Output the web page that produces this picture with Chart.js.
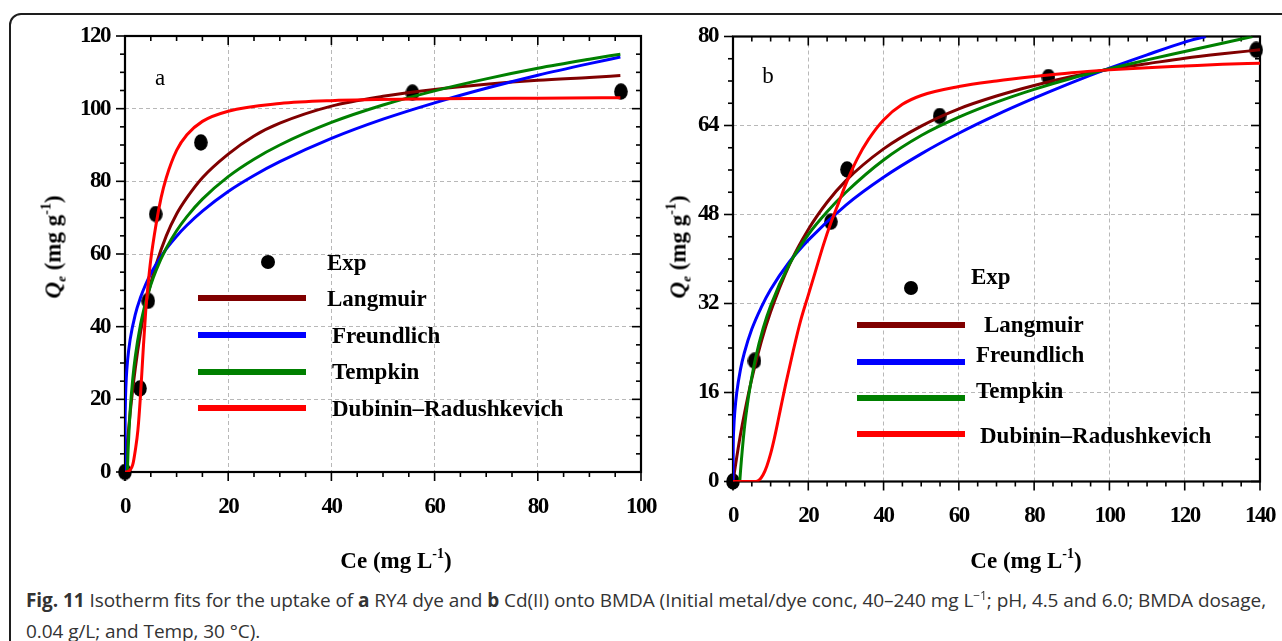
<!DOCTYPE html>
<html>
<head>
<meta charset="utf-8">
<script src="https://cdn.jsdelivr.net/npm/chart.js@4.4.1/dist/chart.umd.min.js"></script>
<style>
  body { margin: 0; background: #fff; width: 1282px; height: 641px; overflow: hidden; position: relative; }
  .frame { position: absolute; left: 9px; top: 13px; width: 1320px; height: 700px; border: 2px solid #1e1e1e; border-radius: 12px; box-sizing: border-box; }
  canvas { position: absolute; top: 0; }
  #chartA { left: 0; }
  #chartB { left: 660px; }
  .t { position: absolute; font-family: "Liberation Serif", serif; font-weight: bold; font-size: 23px; line-height: 1; white-space: nowrap; color: #000; transform: translateY(-50%); }
  .sup { font-size: 14px; position: relative; top: -0.75em; }
  .sub { font-size: 13px; font-style: italic; position: relative; top: 0.35em; }
  .panel { position: absolute; font-family: "Liberation Serif", serif; font-size: 23px; line-height: 1; transform: translate(-50%, -50%); }
  .swatch { position: absolute; height: 6px; transform: translateY(-50%); }
  .dot { position: absolute; width: 14px; height: 14px; border-radius: 50%; background: #000; transform: translate(-50%, -50%); }
  .xt { position: absolute; font-family: "Liberation Serif", serif; font-weight: bold; font-size: 23px; line-height: 1; white-space: nowrap; transform: translate(-50%, -50%); }
  .yt { position: absolute; font-family: "Liberation Serif", serif; font-weight: bold; font-size: 23px; line-height: 1; white-space: nowrap; transform: translate(-50%, -50%) rotate(-90deg); }
  .cap { position: absolute; left: 26px; top: 586px; font-family: "Open Sans", sans-serif; font-size: 19px; line-height: 28px; color: #333; white-space: nowrap; }
  .cap sup { font-size: 12px; vertical-align: 0; position: relative; top: -0.6em; }
</style>
</head>
<body>
<div class="frame"></div>
<canvas id="chartA" width="660" height="580"></canvas>
<canvas id="chartB" width="622" height="580"></canvas>
<div id="overlay"></div>
<div class="cap" id="cap"><span id="capLine1"><b>Fig. 11</b> Isotherm fits for the uptake of <b>a</b> RY4 dye and <b>b</b> Cd(II) onto BMDA (Initial metal/dye conc, 40–240 mg L<sup>−1</sup>; pH, 4.5 and 6.0; BMDA dosage,</span><br>0.04 g/L; and Temp, 30 °C).</div>
<script>
// ---- axis ticks ----
const xTicksA = [0, 20, 40, 60, 80, 100];
const yTicksA = [0, 20, 40, 60, 80, 100, 120];
const xTicksB = [0, 20, 40, 60, 80, 100, 120, 140];
const yTicksB = [0, 16, 32, 48, 64, 80];

const seriesNames = ['Langmuir', 'Freundlich', 'Tempkin', 'Dubinin–Radushkevich'];
const seriesColors = ['#800000', '#0000ff', '#008000', '#ff0000'];

// ---- panel a : RY4 dye ----
const expA_x = [0, 2.9, 4.5, 5.95, 14.7, 55.7, 96.1];
const expA_y = [0, 23.0, 47.1, 71.0, 90.7, 104.4, 104.7];

const langA_x = [0, 0.5, 1, 2, 3, 4, 5, 6, 8, 10, 12, 15, 20, 25, 30, 40, 50, 60, 70, 80, 90, 96];
const langA_y = [0, 8.8, 16.3, 28.6, 38.3, 46.0, 52.0, 57.0, 65.0, 71.0, 75.5, 81.0, 87.5, 92.5, 96.0, 100.7, 103.4, 105.3, 106.7, 107.8, 108.6, 109.1];

const freA_x = [0, 0.01, 0.05, 0.1, 0.25, 0.5, 1, 2, 3, 4, 5, 6, 8, 10, 12, 15, 20, 25, 30, 40, 50, 60, 70, 80, 90, 96];
const freA_y = [0, 11.5, 17.3, 20.5, 25.8, 30.7, 36.5, 43.4, 48.0, 51.6, 54.6, 57.1, 61.4, 64.9, 67.9, 71.8, 77.2, 81.6, 85.4, 91.8, 97.1, 101.6, 105.6, 109.2, 112.4, 114.2];

const temA_x = [0.46, 0.6, 0.8, 1, 1.5, 2, 3, 4, 5, 6, 8, 10, 12, 15, 20, 25, 30, 40, 50, 60, 70, 80, 90, 96];
const temA_y = [0, 5.9, 12.1, 16.9, 25.6, 31.8, 40.5, 46.7, 51.5, 55.4, 61.6, 66.4, 70.3, 75.1, 81.3, 86.1, 90.0, 96.2, 101.0, 104.9, 108.2, 111.1, 113.6, 115.0];

const drA_x = [0, 0.5, 1, 1.5, 2, 2.5, 3, 3.5, 4, 4.5, 5, 6, 7, 8, 10, 12, 15, 20, 30, 40, 60, 80, 96];
const drA_y = [0, 0.1, 0.6, 2.0, 6.0, 11.5, 21.0, 33.0, 44.0, 52.0, 58.5, 68.0, 75.5, 81.0, 88.5, 92.8, 96.5, 99.3, 101.4, 102.2, 102.7, 102.9, 103.0];

// ---- panel b : Cd(II) ----
const expB_x = [0, 5.7, 26.0, 30.3, 54.9, 83.8, 139];
const expB_y = [0, 21.7, 46.7, 56.1, 65.7, 72.7, 77.6];

const langB_x = [0, 1, 2, 3, 5, 7.5, 10, 15, 20, 25, 30, 40, 50, 60, 70, 80, 90, 100, 110, 120, 130, 140];
const langB_y = [0, 4.4, 8.5, 12.1, 18.5, 25.1, 30.5, 39.0, 45.3, 50.2, 54.1, 59.8, 63.9, 67.0, 69.3, 71.2, 72.8, 74.1, 75.1, 76.1, 76.9, 77.6];

const freB_x = [0, 0.05, 0.2, 0.5, 1, 2, 3, 5, 7.5, 10, 15, 20, 30, 40, 50, 60, 70, 80, 90, 100, 110, 120, 125.6];
const freB_y = [0, 5.9, 9.4, 12.7, 16.0, 20.2, 23.1, 27.4, 31.3, 34.5, 39.5, 43.4, 49.7, 54.7, 58.9, 62.6, 65.9, 68.9, 71.7, 74.3, 76.7, 79.0, 80.0];

const temB_x = [1.8, 2, 3, 4, 5, 6, 8, 10, 15, 20, 25, 30, 40, 50, 60, 70, 80, 90, 100, 110, 120, 130, 138];
const temB_y = [0, 1.9, 9.4, 14.7, 18.8, 22.2, 27.5, 31.6, 39.1, 44.4, 48.5, 52.0, 57.8, 62.2, 65.5, 68.2, 70.5, 72.5, 74.2, 75.8, 77.3, 78.8, 80.0];

const drB_x = [0, 6, 7, 8, 9, 10, 11, 12, 13, 14, 16, 18, 20, 22, 24, 26, 28, 30, 33, 36, 40, 45, 50, 60, 70, 80, 90, 100, 110, 120, 130, 140];
const drB_y = [0, 0, 0.3, 1.2, 2.8, 5.0, 7.8, 11.0, 14.3, 17.5, 23.5, 29.0, 33.5, 38.0, 42.5, 46.5, 50.0, 53.5, 58.0, 61.5, 65.0, 67.8, 69.4, 71.0, 72.0, 72.8, 73.5, 74.0, 74.4, 74.7, 75.0, 75.2];

function pts(xs, ys) { return xs.map((x, i) => ({x: x, y: ys[i]})); }

// slightly tall elliptical marker, as in the figure
const dotImg = document.createElement('canvas');
dotImg.width = 14; dotImg.height = 17;
const dctx = dotImg.getContext('2d');
dctx.fillStyle = '#000';
dctx.beginPath(); dctx.ellipse(7, 8.5, 6.8, 8.2, 0, 0, Math.PI * 2); dctx.fill();

// box + major/minor tick marks (bottom/left outward, top/right inward)
const framePlugin = {
  id: 'frame',
  beforeDraw(chart) { chart.ctx.letterSpacing = '-1.5px'; },
  afterDraw(chart) { chart.ctx.letterSpacing = '0px'; },
  beforeDatasetsDraw(chart, args, opts) {
    const {ctx, chartArea: a, scales: {x, y}} = chart;
    ctx.save();
    ctx.letterSpacing = '0px';
    ctx.strokeStyle = '#000';
    ctx.lineWidth = 1.6;
    const seg = (x1, y1, x2, y2) => { ctx.beginPath(); ctx.moveTo(x1, y1); ctx.lineTo(x2, y2); ctx.stroke(); };
    const isMajor = (v, list) => list.some(t => Math.abs(t - v) < 1e-6);
    for (let v = x.min; v <= x.max + 1e-6; v += opts.xMinor) {
      const px = x.getPixelForValue(v);
      const len = isMajor(v, opts.xTicks) ? 9 : 5;
      seg(px, a.bottom, px, a.bottom + len);
      seg(px, a.top, px, a.top + len);
    }
    for (let v = y.min; v <= y.max + 1e-6; v += opts.yMinor) {
      const py = y.getPixelForValue(v);
      const len = isMajor(v, opts.yTicks) ? 9 : 5;
      seg(a.left - len, py, a.left, py);
      seg(a.right - len, py, a.right, py);
    }
    ctx.lineWidth = 2.2;
    ctx.strokeRect(a.left, a.top, a.right - a.left, a.bottom - a.top);
    ctx.restore();
  }
};

function axis(ticks, size, dir) {
  return {
    type: 'linear',
    min: ticks[0],
    max: ticks[ticks.length - 1],
    afterBuildTicks: s => { s.ticks = ticks.map(v => ({value: v})); },
    afterFit: s => {
      if (dir === 'x') s.height = size; else s.width = size;
      // keep label overhang from shrinking the plot area
      s.paddingLeft = 0; s.paddingRight = 0; s.paddingTop = 0; s.paddingBottom = 0;
    },
    grid: {color: '#b8b8b8', lineWidth: 1, drawTicks: false},
    border: {display: false, dash: [4, 3]},
    ticks: {
      color: '#000',
      padding: dir === 'x' ? 21 : 15,
      font: {family: '"Liberation Serif", serif', size: 23, weight: 'bold'}
    }
  };
}

function makeChart(id, o) {
  const curves = [o.lang, o.fre, o.tem, o.dr];
  const datasets = [{
    label: 'Exp',
    data: pts(o.expX, o.expY),
    showLine: false,
    pointStyle: dotImg,
    pointRadius: 8,
    order: 5,
    clip: false
  }];
  curves.forEach((c, i) => datasets.push({
    label: seriesNames[i],
    data: pts(c[0], c[1]),
    borderColor: seriesColors[i],
    borderWidth: 3,
    pointRadius: 0,
    fill: false,
    cubicInterpolationMode: 'monotone',
    order: 4 - i
  }));
  return new Chart(document.getElementById(id), {
    type: 'line',
    data: {datasets: datasets},
    options: {
      responsive: false,
      animation: false,
      devicePixelRatio: 1,
      events: [],
      layout: {padding: {top: o.top, right: o.right, left: 0, bottom: 0}},
      plugins: {
        legend: {display: false},
        tooltip: {enabled: false},
        frame: {xMinor: o.xMinor, yMinor: o.yMinor, xTicks: o.xTicks, yTicks: o.yTicks}
      },
      scales: {
        x: axis(o.xTicks, o.xH, 'x'),
        y: axis(o.yTicks, o.yW, 'y')
      }
    },
    plugins: [framePlugin]
  });
}

makeChart('chartA', {
  expX: expA_x, expY: expA_y,
  lang: [langA_x, langA_y], fre: [freA_x, freA_y], tem: [temA_x, temA_y], dr: [drA_x, drA_y],
  xTicks: xTicksA, yTicks: yTicksA, xMinor: 5, yMinor: 5,
  top: 36, right: 19, xH: 108, yW: 125
});
makeChart('chartB', {
  expX: expB_x, expY: expB_y,
  lang: [langB_x, langB_y], fre: [freB_x, freB_y], tem: [temB_x, temB_y], dr: [drB_x, drB_y],
  xTicks: xTicksB, yTicks: yTicksB, xMinor: 5, yMinor: 4,
  top: 36.5, right: 22, xH: 98.5, yW: 73
});

// ---- overlay text: legends, panel letters, axis titles ----
const ov = document.getElementById('overlay');
function add(cls, html, left, top, extra) {
  const d = document.createElement('div');
  d.className = cls;
  d.innerHTML = html;
  d.style.left = left + 'px';
  d.style.top = top + 'px';
  if (extra) Object.assign(d.style, extra);
  ov.appendChild(d);
  return d;
}
function legend(L) {
  add('dot', '', L.dot[0], L.dot[1]);
  add('t', 'Exp', L.exp[0], L.exp[1]);
  seriesNames.forEach((n, i) => {
    add('swatch', '', L.x1, L.lineY[i], {width: (L.x2 - L.x1) + 'px', background: seriesColors[i]});
    add('t', n, L.textX[i], L.textY[i]);
  });
}
legend({dot: [268, 262], exp: [327, 262], x1: 198, x2: 306,
  lineY: [298, 335, 371.5, 407.5], textX: [327, 332, 332, 332], textY: [298, 335, 371, 408]});
legend({dot: [911, 288], exp: [971, 276], x1: 857, x2: 965,
  lineY: [325, 361.5, 397.5, 434], textX: [984, 976, 976, 980], textY: [324, 354, 390, 435]});

add('panel', 'a', 160, 77);
add('panel', 'b', 768, 75);

const xTitle = 'Ce (mg L<span class="sup">-1</span>)';
const yTitle = '<i>Q</i><span class="sub">e</span> (mg g<span class="sup">-1</span>)';
add('xt', xTitle, 396, 560);
add('xt', xTitle, 1026, 560);
add('yt', yTitle, 53, 247);
add('yt', yTitle, 678, 247);

// stretch the first caption line to the figure width, as typeset in the original
const line1 = document.getElementById('capLine1');
const w = line1.getBoundingClientRect().width;
const n = line1.textContent.length;
document.getElementById('cap').style.letterSpacing = ((1240 - w) / n) + 'px';
</script>
</body>
</html>
